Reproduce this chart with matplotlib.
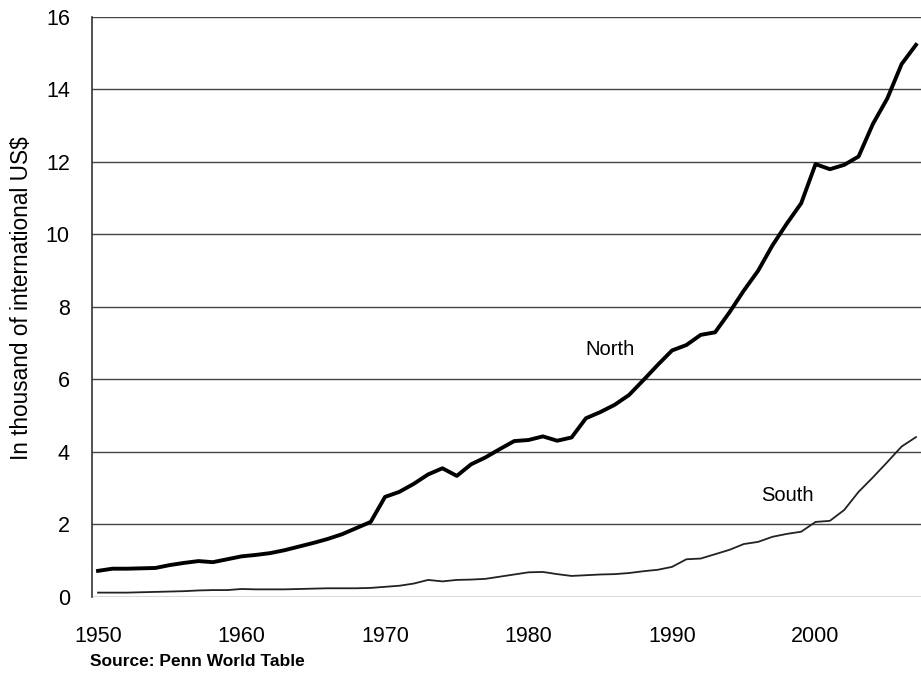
import matplotlib
matplotlib.use("Agg")
import matplotlib.pyplot as plt

plt.rcParams['font.family'] = ['Liberation Sans', 'DejaVu Sans']

years = list(range(1950, 2008))
north = [0.72, 0.78, 0.78, 0.79, 0.80, 0.88, 0.94, 0.99, 0.96, 1.04,
         1.12, 1.16, 1.21, 1.29, 1.39, 1.49, 1.60, 1.73, 1.90, 2.07,
         2.76, 2.90, 3.12, 3.38, 3.55, 3.34, 3.66, 3.85, 4.08, 4.30,
         4.33, 4.43, 4.31, 4.40, 4.93, 5.10, 5.30, 5.57, 5.98, 6.40,
         6.80, 6.95, 7.23, 7.30, 7.85, 8.45, 9.00, 9.70, 10.30, 10.86,
         11.94, 11.80, 11.92, 12.15, 13.05, 13.75, 14.70, 15.23]
south = [0.12, 0.12, 0.12, 0.13, 0.14, 0.15, 0.16, 0.18, 0.19, 0.19,
         0.22, 0.21, 0.21, 0.21, 0.22, 0.23, 0.24, 0.24, 0.24, 0.25,
         0.28, 0.31, 0.37, 0.47, 0.43, 0.47, 0.48, 0.50, 0.56, 0.62,
         0.68, 0.69, 0.63, 0.58, 0.60, 0.62, 0.63, 0.66, 0.71, 0.75,
         0.83, 1.04, 1.06, 1.18, 1.30, 1.46, 1.52, 1.66, 1.74, 1.80,
         2.07, 2.10, 2.40, 2.90, 3.30, 3.72, 4.15, 4.41]

yticks = [0, 2, 4, 6, 8, 10, 12, 14, 16]
xticks = [1950, 1960, 1970, 1980, 1990, 2000]

fig = plt.figure(figsize=(9.21, 6.75), dpi=100)
ax = fig.add_axes([0.0999, 0.1156, 0.9001, 0.8593])

for yv in yticks:
    ax.axhline(yv, color='#444444', lw=1.0, zorder=1)

ax.plot(years, north, color='black', lw=2.8, zorder=3, solid_joinstyle='round')
ax.plot(years, south, color='#222222', lw=1.3, zorder=3)

ax.set_xlim(1949.58, 2007.35)
ax.set_ylim(0, 16)
ax.set_yticks(yticks)
ax.set_xticks(xticks)
ax.tick_params(axis='both', length=0, labelsize=15.5)
ax.tick_params(axis='y', pad=16)
ax.tick_params(axis='x', pad=21)

for s in ['top', 'right', 'bottom']:
    ax.spines[s].set_visible(False)
ax.spines['left'].set_color('#333333')
ax.spines['left'].set_linewidth(1.2)

fig.text(22 / 921, 1 - 298 / 675, 'In thousand of international US$',
         fontsize=16.3, rotation=90, ha='center', va='center')

ax.text(1985.65, 6.84, 'North', fontsize=14.5, ha='center', va='center')
ax.text(1998.05, 2.81, 'South', fontsize=14.5, ha='center', va='center')

fig.text(90 / 921, 1 - 661 / 675, 'Source: Penn World Table', fontsize=12.5,
         fontweight='bold', ha='left', va='center')

fig.savefig('out.png', dpi=100)
